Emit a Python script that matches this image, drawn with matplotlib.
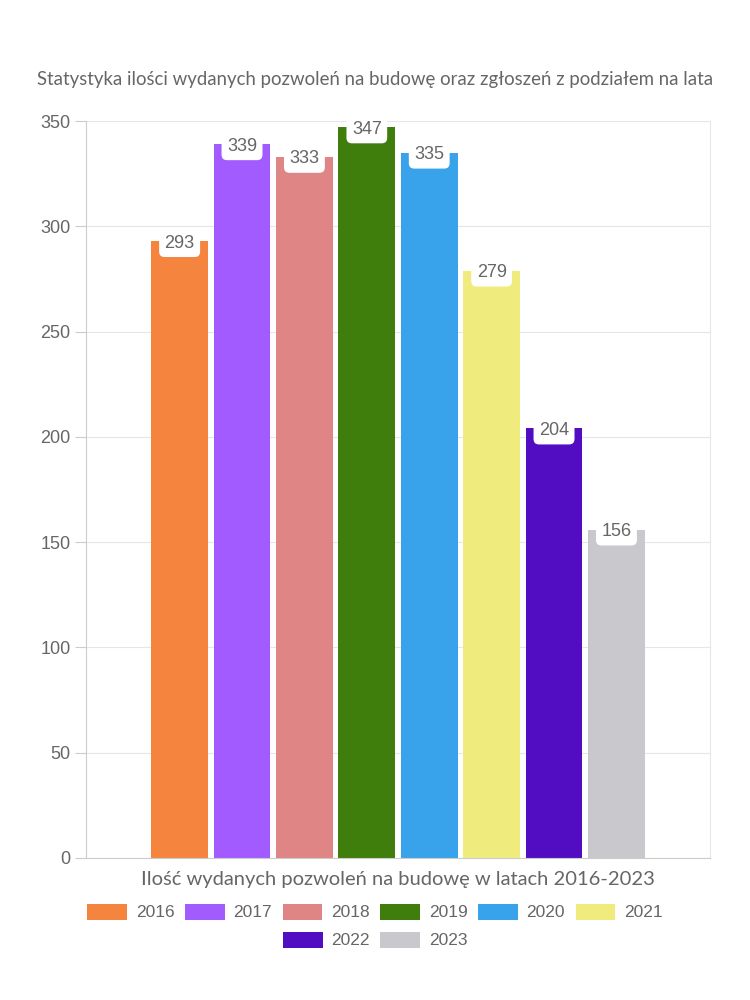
import matplotlib
matplotlib.use("Agg")
import matplotlib.pyplot as plt
from matplotlib.patches import Patch
import numpy as np

years = ["2016", "2017", "2018", "2019", "2020", "2021", "2022", "2023"]
values = [293, 339, 333, 347, 335, 279, 204, 156]
colors = ["#f5843f", "#a15bfe", "#e08585", "#3f7d0c", "#38a3eb", "#f0eb7d", "#520cc2", "#c9c9cd"]
title = "Statystyka ilości wydanych pozwoleń na budowę oraz zgłoszeń z podziałem na lata"
xlabel = "Ilość wydanych pozwoleń na budowę w latach 2016-2023"
yticks = [0, 50, 100, 150, 200, 250, 300, 350]

TXT = "#666666"
plt.rcParams['font.family'] = ['Liberation Sans', 'DejaVu Sans']

fig = plt.figure(figsize=(7.5, 10), dpi=100)
ax = fig.add_axes([0.1147, 0.142, 0.832, 0.737])

x = np.arange(len(years))
bars = ax.bar(x, values, width=0.91, color=colors, zorder=2)

for xi, v in zip(x, values):
    ax.annotate(str(v), (xi, v), xytext=(0, -1.5), textcoords="offset points",
                ha="center", va="center", fontsize=13, color=TXT, zorder=4,
                bbox=dict(boxstyle="round,pad=0.3,rounding_size=0.3", fc="white", ec="none"))

ax.set_xlim(-1.5, 8.5)
ax.set_ylim(0, 350)
ax.set_yticks(yticks)
ax.set_yticklabels([str(t) for t in yticks], fontsize=13, color=TXT)
ax.set_xticks([])
ax.tick_params(axis='y', length=8, color="#cccccc", width=0.8, pad=3)
ax.grid(axis='y', color="#e6e6e6", linewidth=0.8, zorder=0)
ax.set_axisbelow(True)
for s in ["left", "bottom"]:
    ax.spines[s].set_color("#cccccc")
    ax.spines[s].set_linewidth(0.8)
ax.spines["right"].set_color("#e6e6e6")
ax.spines["right"].set_linewidth(0.8)
ax.spines["top"].set_visible(False)

fig.text(0.5, 0.920, title, ha="center", va="center", fontsize=13.4,
         color=TXT, family=["Lato", "DejaVu Sans"])
fig.text(0.531, 0.120, xlabel, ha="center", va="center", fontsize=14.5,
         color=TXT, family=["Lato", "DejaVu Sans"])

handles = [Patch(facecolor=c, edgecolor="none", label=y) for c, y in zip(colors, years)]
leg_kw = dict(frameon=False, fontsize=12.5, handlelength=2.3, handleheight=1.05,
              handletextpad=0.5, columnspacing=0.6, labelcolor=TXT)
leg1 = fig.legend(handles=handles[:6], loc="center", bbox_to_anchor=(0.5, 0.088), ncol=6, **leg_kw)
leg2 = fig.legend(handles=handles[6:], loc="center", bbox_to_anchor=(0.5, 0.060), ncol=2, **leg_kw)

fig.savefig("out.png", dpi=100, facecolor="white")
